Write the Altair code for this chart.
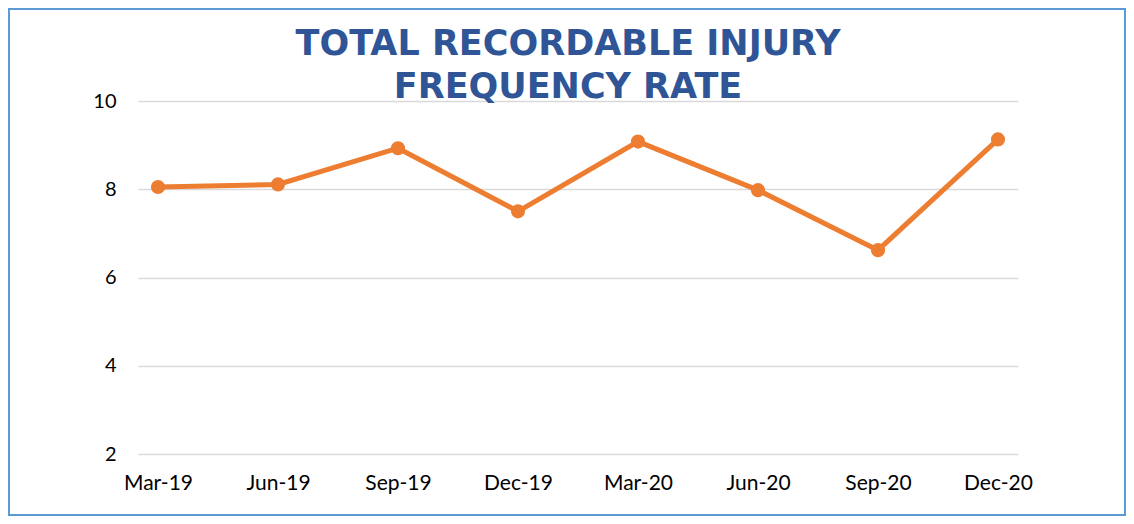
import altair as alt
import pandas as pd

quarters = ["Mar-19", "Jun-19", "Sep-19", "Dec-19", "Mar-20", "Jun-20", "Sep-20", "Dec-20"]
trifr = [8.05, 8.11, 8.93, 7.50, 9.08, 7.98, 6.62, 9.13]
y_ticks = [2, 4, 6, 8, 10]
title_lines = ["TOTAL RECORDABLE INJURY", "FREQUENCY RATE"]

df = pd.DataFrame({"quarter": quarters, "trifr": trifr})

FONT = "Lato"
ORANGE = "#ED7D31"

x = alt.X(
    "quarter:N",
    sort=quarters,
    scale=alt.Scale(type="point", padding=1 / 6),
    axis=alt.Axis(
        title=None, labelAngle=0, domain=False, ticks=False, grid=False,
        labelFont=FONT, labelFontSize=21, labelColor="#000000", labelPadding=18,
    ),
)
y = alt.Y(
    "trifr:Q",
    scale=alt.Scale(domain=[2, 10], nice=False, zero=False),
    axis=alt.Axis(
        title=None, values=y_ticks, domain=False, ticks=False, grid=True,
        gridColor="#D9D9D9", gridWidth=1.5,
        labelFont=FONT, labelFontSize=20, labelColor="#000000", labelPadding=22,
    ),
)

border = alt.Chart(pd.DataFrame({"k": [0]})).mark_rect(
    fillOpacity=0, stroke="#5B9BD5", strokeWidth=2
).encode(
    x=alt.value(-129), x2=alt.value(987), y=alt.value(-92), y2=alt.value(414)
)

title = alt.Chart(pd.DataFrame({"k": [0]})).mark_text(
    text=title_lines, font="DejaVu Sans", fontSize=35, fontWeight="bold", color="#2F5597",
    lineHeight=43, align="center", baseline="alphabetic",
).encode(x=alt.value(430), y=alt.value(-46))

line = alt.Chart(df).mark_line(color=ORANGE, strokeWidth=5).encode(x=x, y=y)
points = alt.Chart(df).mark_circle(color=ORANGE, size=200, opacity=1).encode(x=x, y=y)

chart = alt.layer(border, line, points, title).properties(
    width=880,
    height=353,
    padding={"left": 130, "top": 93, "right": 108, "bottom": 62},
    autosize=alt.AutoSizeParams(type="none"),
).configure_view(strokeWidth=0)

chart.save("out.html", embed_options={"renderer": "svg", "actions": False})
